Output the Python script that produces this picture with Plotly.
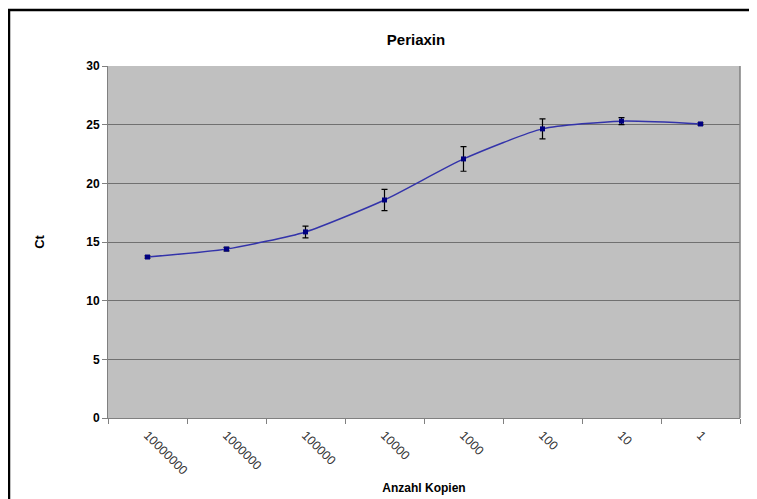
import plotly.graph_objects as go

categories = ["10000000", "1000000", "100000", "10000", "1000", "100", "10", "1"]
ct_values = [13.72, 14.4, 15.86, 18.58, 22.08, 24.64, 25.3, 25.06]
ct_errors = [0.1, 0.15, 0.5, 0.9, 1.05, 0.85, 0.3, 0.1]
y_ticks = [0, 5, 10, 15, 20, 25, 30]

# page is offset by 8px body margin
OFF = 8
L, R, T, B = 108 - OFF, 757 - (740 - OFF), 66 - OFF, 499 - (418 - OFF)
PW, PH = 757 - L - R, 499 - T - B

fig = go.Figure()
fig.add_trace(go.Scatter(
    x=categories, y=ct_values,
    mode="lines+markers",
    line=dict(color="#3333aa", width=1.5, shape="spline", smoothing=0.6),
    marker=dict(color="#000080", size=5, symbol="square"),
    error_y=dict(type="data", array=ct_errors, visible=True, color="black", thickness=1.2, width=3),
    showlegend=False,
))

fig.update_layout(
    width=757, height=499,
    margin=dict(l=L, r=R, t=T, b=B),
    paper_bgcolor="white",
    plot_bgcolor="#c0c0c0",
    font=dict(family="Liberation Sans, Arial, sans-serif", color="black"),
    title=dict(text="<b>Periaxin</b>", x=(416 - OFF) / 757, xanchor="center",
               y=1 - (40 - OFF) / 499, yanchor="middle", font=dict(size=15)),
)
fig.update_xaxes(
    type="category", tickson="boundaries", tickangle=45,
    ticks="outside", ticklen=5, tickcolor="#808080",
    showline=True, linecolor="#808080", linewidth=1,
    showgrid=False,
    ticklabelstandoff=4,
    tickfont=dict(size=12.5, color="#333333"),
    title=dict(text="<b>Anzahl Kopien</b>", font=dict(size=12), standoff=6),
    range=[-0.5, 7.5],
)
fig.update_yaxes(
    range=[0, 30], tickvals=y_ticks,
    ticks="outside", ticklen=5, tickcolor="#808080",
    showline=True, linecolor="#808080", linewidth=1,
    showgrid=True, gridcolor="#707070", gridwidth=1,
    zeroline=False,
    tickfont=dict(size=12, color="black", weight="bold"),
    title=dict(text="<b>Ct</b>", font=dict(size=13), standoff=38),
)
# right edge of plot area
fig.add_shape(type="line", xref="paper", yref="paper", x0=1, x1=1, y0=0, y1=1,
              line=dict(color="#808080", width=1.5))
# outer black frame
fig.add_shape(type="rect", xref="paper", yref="paper",
              x0=(1 - L) / PW, x1=1.2, y0=-0.4, y1=(T + PH - 2) / PH,
              line=dict(color="black", width=2.5))

fig.write_html("out.html")
